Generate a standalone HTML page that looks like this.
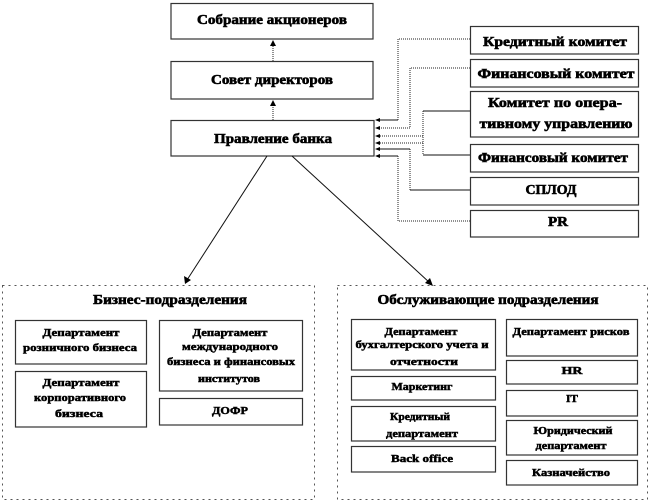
<!DOCTYPE html>
<html><head><meta charset="utf-8"><style>
html,body{margin:0;padding:0;background:#fff;}
svg{display:block;}
text{font-family:"Liberation Serif","Times New Roman",serif;font-weight:bold;fill:#000;stroke:#000;stroke-width:0.6;text-anchor:middle;}
.t{font-size:14px;}
.s{font-size:11px;stroke-width:0.5;}
.box{fill:#fff;stroke:#333;stroke-width:1.2;}
.cont{fill:none;stroke:#555;stroke-width:1;stroke-dasharray:2,4;}
.dl{fill:none;stroke:#222;stroke-width:1;stroke-dasharray:1,1;}
.sl{fill:none;stroke:#111;stroke-width:1;}
</style></head><body>
<svg width="654" height="504" viewBox="0 0 654 504" xmlns="http://www.w3.org/2000/svg">
<!-- top boxes -->
<rect class="box" x="171" y="3.5" width="202" height="35.5"/>
<rect class="box" x="171" y="61.5" width="202" height="37.5"/>
<rect class="box" x="171" y="120.5" width="203" height="35.5"/>
<text class="t" x="272" y="24" textLength="150" lengthAdjust="spacingAndGlyphs">Собрание акционеров</text>
<text class="t" x="272" y="84" textLength="122" lengthAdjust="spacingAndGlyphs">Совет директоров</text>
<text class="t" x="273" y="143" textLength="118" lengthAdjust="spacingAndGlyphs">Правление банка</text>

<!-- vertical arrows top -->
<line class="dl" x1="273" y1="61" x2="273" y2="44"/>
<polygon points="273,40 270,46 276,46" fill="#000"/>
<line class="dl" x1="273" y1="120" x2="273" y2="104"/>
<polygon points="273,100 270,106 276,106" fill="#000"/>

<!-- right committee boxes -->
<rect class="box" x="470.5" y="26.5" width="168" height="27.5"/>
<rect class="box" x="470.5" y="59.5" width="168" height="27.5"/>
<rect class="box" x="470.5" y="91.5" width="168" height="45.5"/>
<rect class="box" x="470.5" y="144.5" width="168" height="27.5"/>
<rect class="box" x="470.5" y="177.5" width="168" height="27.5"/>
<rect class="box" x="470.5" y="210.5" width="168" height="26.5"/>
<text class="t" x="555" y="46" font-size="13.5" textLength="144" lengthAdjust="spacingAndGlyphs">Кредитный комитет</text>
<text class="t" x="556" y="78" font-size="13.5" textLength="157" lengthAdjust="spacingAndGlyphs">Финансовый комитет</text>
<text class="t" x="555" y="107" font-size="13.5" textLength="134" lengthAdjust="spacingAndGlyphs">Комитет по опера-</text>
<text class="t" x="556" y="128" font-size="13.5" textLength="153" lengthAdjust="spacingAndGlyphs">тивному управлению</text>
<text class="t" x="553" y="162" font-size="13.5" textLength="150" lengthAdjust="spacingAndGlyphs">Финансовый комитет</text>
<text class="t" x="551" y="194" font-size="14" textLength="51" lengthAdjust="spacingAndGlyphs">СПЛОД</text>
<text class="t" x="558" y="226" font-size="14" textLength="20" lengthAdjust="spacingAndGlyphs">PR</text>

<!-- connectors to Правление -->
<polyline class="dl" points="470,39 398,39 398,120"/>
<line class="sl" x1="398" y1="120" x2="378" y2="120"/>
<polyline class="dl" points="470,68 410,68 410,128 378,128"/>
<line class="sl" x1="470" y1="111" x2="423" y2="111"/>
<line class="dl" x1="423" y1="111" x2="423" y2="155"/>
<line class="sl" x1="423" y1="155" x2="470" y2="155"/>
<line class="dl" x1="423" y1="136" x2="378" y2="136"/>
<line class="dl" x1="423" y1="143" x2="378" y2="143"/>
<line class="sl" x1="470" y1="190" x2="410" y2="190"/>
<line class="dl" x1="410" y1="190" x2="410" y2="149"/>
<line class="sl" x1="410" y1="149" x2="378" y2="149"/>
<polyline class="dl" points="470,221 398,221 398,156"/>
<line class="sl" x1="398" y1="156" x2="378" y2="156"/>
<g fill="#000">
<polygon points="375,120 380,118 380,122"/>
<polygon points="375,128 380,126 380,130"/>
<polygon points="375,136 380,134 380,138"/>
<polygon points="375,143 380,141 380,145"/>
<polygon points="375,149 380,147 380,151"/>
<polygon points="375,156 380,154 380,158"/>
</g>

<!-- diagonal arrows -->
<line class="sl" x1="267" y1="156" x2="187" y2="280"/>
<polygon points="185,284 184,276 191,280" fill="#000"/>
<line class="sl" x1="292" y1="156" x2="430" y2="283"/>
<polygon points="433,286 425,283 430,278" fill="#000"/>

<!-- containers -->
<rect class="cont" x="2.5" y="285.5" width="312" height="214"/>
<rect class="cont" x="337.5" y="285.5" width="310" height="214"/>
<text class="t" x="170" y="304" textLength="154" lengthAdjust="spacingAndGlyphs">Бизнес-подразделения</text>
<text class="t" x="488" y="304" textLength="221" lengthAdjust="spacingAndGlyphs">Обслуживающие подразделения</text>

<!-- left inner boxes -->
<rect class="box" x="15.5" y="320.5" width="131" height="43.5"/>
<rect class="box" x="15.5" y="371.5" width="131" height="55.5"/>
<rect class="box" x="159.5" y="320.5" width="143" height="70.5"/>
<rect class="box" x="159.5" y="398.5" width="143" height="26.5"/>
<text class="s" x="81" y="336" textLength="77" lengthAdjust="spacingAndGlyphs">Департамент</text>
<text class="s" x="80" y="351" textLength="114" lengthAdjust="spacingAndGlyphs">розничного бизнеса</text>
<text class="s" x="81" y="386" textLength="77" lengthAdjust="spacingAndGlyphs">Департамент</text>
<text class="s" x="80" y="401" textLength="92" lengthAdjust="spacingAndGlyphs">корпоративного</text>
<text class="s" x="79" y="417" textLength="48" lengthAdjust="spacingAndGlyphs">бизнеса</text>
<text class="s" x="230" y="336" textLength="75" lengthAdjust="spacingAndGlyphs">Департамент</text>
<text class="s" x="230" y="350" textLength="96" lengthAdjust="spacingAndGlyphs">международного</text>
<text class="s" x="231" y="365" textLength="128" lengthAdjust="spacingAndGlyphs">бизнеса и финансовых</text>
<text class="s" x="229" y="382" textLength="62" lengthAdjust="spacingAndGlyphs">институтов</text>
<text class="s" x="230" y="414" textLength="36" lengthAdjust="spacingAndGlyphs">ДОФР</text>

<!-- right inner boxes -->
<rect class="box" x="351.5" y="319.5" width="144" height="50.5"/>
<rect class="box" x="351.5" y="376.5" width="144" height="23.5"/>
<rect class="box" x="351.5" y="406.5" width="144" height="34.5"/>
<rect class="box" x="351.5" y="446.5" width="144" height="25.5"/>
<rect class="box" x="506.5" y="319.5" width="131" height="36.5"/>
<rect class="box" x="506.5" y="360.5" width="131" height="23.5"/>
<rect class="box" x="506.5" y="390.5" width="131" height="25.5"/>
<rect class="box" x="506.5" y="420.5" width="131" height="34.5"/>
<rect class="box" x="506.5" y="460.5" width="131" height="24.5"/>
<text class="s" x="421" y="335" textLength="73" lengthAdjust="spacingAndGlyphs">Департамент</text>
<text class="s" x="422" y="348" textLength="133" lengthAdjust="spacingAndGlyphs">бухгалтерского  учета и</text>
<text class="s" x="424" y="365" textLength="68" lengthAdjust="spacingAndGlyphs">отчетности</text>
<text class="s" x="422" y="390" textLength="61" lengthAdjust="spacingAndGlyphs">Маркетинг</text>
<text class="s" x="420" y="420" textLength="60" lengthAdjust="spacingAndGlyphs">Кредитный</text>
<text class="s" x="422" y="437" textLength="72" lengthAdjust="spacingAndGlyphs">департамент</text>
<text class="s" x="422" y="462" textLength="62" lengthAdjust="spacingAndGlyphs">Back office</text>
<text class="s" x="571" y="335" textLength="117" lengthAdjust="spacingAndGlyphs">Департамент рисков</text>
<text class="s" x="572" y="374" textLength="21" lengthAdjust="spacingAndGlyphs">HR</text>
<text class="s" x="572" y="402" textLength="12" lengthAdjust="spacingAndGlyphs">IT</text>
<text class="s" x="573" y="434" textLength="79" lengthAdjust="spacingAndGlyphs">Юридический</text>
<text class="s" x="571" y="449" textLength="71" lengthAdjust="spacingAndGlyphs">департамент</text>
<text class="s" x="571" y="476" textLength="78" lengthAdjust="spacingAndGlyphs">Казначейство</text>
</svg>
</body></html>
